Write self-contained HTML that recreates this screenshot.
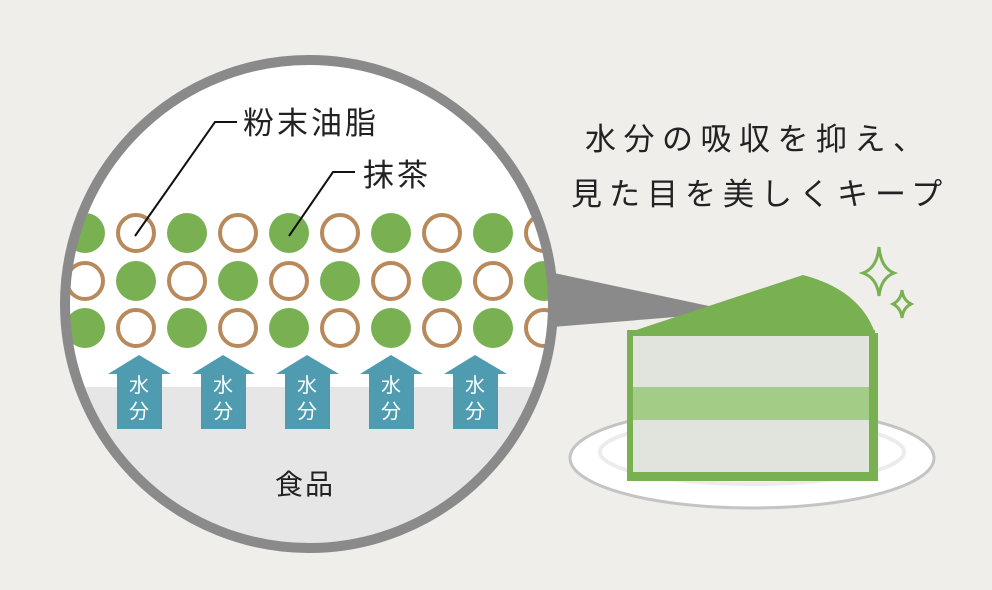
<!DOCTYPE html>
<html><head><meta charset="utf-8"><style>
body{margin:0;background:#efeeea;}
svg{display:block;font-family:"Liberation Sans","Noto Sans CJK JP",sans-serif;}
</style></head><body>
<svg width="992" height="590" viewBox="0 0 992 590" xmlns="http://www.w3.org/2000/svg">
<rect width="992" height="590" fill="#efeeea"/>
<defs><clipPath id="c"><circle cx="309" cy="304" r="243"/></clipPath></defs>
<polygon points="540,270 737,312 540,328" fill="#8a8a8a"/>
<ellipse cx="752" cy="458" rx="182" ry="50" fill="#fff" stroke="#c4c4c4" stroke-width="3"/>
<ellipse cx="752" cy="452" rx="152" ry="32" fill="none" stroke="#ececec" stroke-width="4"/>
<path d="M627,333 L803,275 Q860,290 875,333 Z" fill="#78b052"/>
<rect x="630" y="333" width="242" height="142" fill="#e0e4dc" stroke="#78b052" stroke-width="6"/>
<rect x="633" y="387" width="236" height="33" fill="#a3cd86"/>
<path d="M630,333 L630,478 L875,478 L875,333" fill="none" stroke="#78b052" stroke-width="6"/>
<path d="M879,247 Q881,268 894,273 Q881,278 879,296 Q877,278 863,273 Q877,268 879,247 Z" fill="none" stroke="#78b052" stroke-width="3"/>
<path d="M902,290 Q903,300 911,304 Q903,308 902,318 Q901,308 893,304 Q901,300 902,290 Z" fill="none" stroke="#78b052" stroke-width="3"/>
<g clip-path="url(#c)">
<rect x="50" y="40" width="520" height="530" fill="#fff"/>
<rect x="50" y="387" width="520" height="200" fill="#e6e6e6"/>
<g id="r1">
<circle cx="85" cy="233" r="20" fill="#78b052"/>
<circle cx="136" cy="233" r="18" fill="#fff" stroke="#b8895a" stroke-width="4"/>
<circle cx="187" cy="233" r="20" fill="#78b052"/>
<circle cx="238" cy="233" r="18" fill="#fff" stroke="#b8895a" stroke-width="4"/>
<circle cx="289" cy="233" r="20" fill="#78b052"/>
<circle cx="340" cy="233" r="18" fill="#fff" stroke="#b8895a" stroke-width="4"/>
<circle cx="391" cy="233" r="20" fill="#78b052"/>
<circle cx="442" cy="233" r="18" fill="#fff" stroke="#b8895a" stroke-width="4"/>
<circle cx="493" cy="233" r="20" fill="#78b052"/>
<circle cx="544" cy="233" r="18" fill="#fff" stroke="#b8895a" stroke-width="4"/>
</g>
<use href="#r1" y="95"/>
<g>
<circle cx="85" cy="281" r="18" fill="#fff" stroke="#b8895a" stroke-width="4"/>
<circle cx="136" cy="281" r="20" fill="#78b052"/>
<circle cx="187" cy="281" r="18" fill="#fff" stroke="#b8895a" stroke-width="4"/>
<circle cx="238" cy="281" r="20" fill="#78b052"/>
<circle cx="289" cy="281" r="18" fill="#fff" stroke="#b8895a" stroke-width="4"/>
<circle cx="340" cy="281" r="20" fill="#78b052"/>
<circle cx="391" cy="281" r="18" fill="#fff" stroke="#b8895a" stroke-width="4"/>
<circle cx="442" cy="281" r="20" fill="#78b052"/>
<circle cx="493" cy="281" r="18" fill="#fff" stroke="#b8895a" stroke-width="4"/>
<circle cx="544" cy="281" r="20" fill="#78b052"/>
</g>
<g fill="#4f9bb0">
<polygon id="a" points="139,355 171,374 162,374 162,429 117,429 117,374 108,374"/>
<use href="#a" x="84"/><use href="#a" x="168"/><use href="#a" x="252"/><use href="#a" x="336"/>
</g>
<g fill="#fff" font-size="20" text-anchor="middle">
<text x="139" y="392">水</text><text x="139" y="418">分</text>
<text x="223" y="392">水</text><text x="223" y="418">分</text>
<text x="307" y="392">水</text><text x="307" y="418">分</text>
<text x="391" y="392">水</text><text x="391" y="418">分</text>
<text x="475" y="392">水</text><text x="475" y="418">分</text>
</g>
<text x="305" y="494" font-size="28" text-anchor="middle" fill="#222" letter-spacing="2">食品</text>
</g>
<circle cx="309" cy="304" r="244" fill="none" stroke="#8a8a8a" stroke-width="10"/>
<polyline points="237,122 215,122 135,236" fill="none" stroke="#111" stroke-width="2"/>
<polyline points="355,172 333,172 289,236" fill="none" stroke="#111" stroke-width="2"/>
<g fill="#222" font-size="31">
<text x="243" y="134" letter-spacing="3">粉末油脂</text>
<text x="363" y="186" letter-spacing="3">抹茶</text>
<text x="585" y="150" letter-spacing="7.5">水分の吸収を抑え、</text>
<text x="571" y="205" letter-spacing="7">見た目を美しくキープ</text>
</g>
</svg>
</body></html>
